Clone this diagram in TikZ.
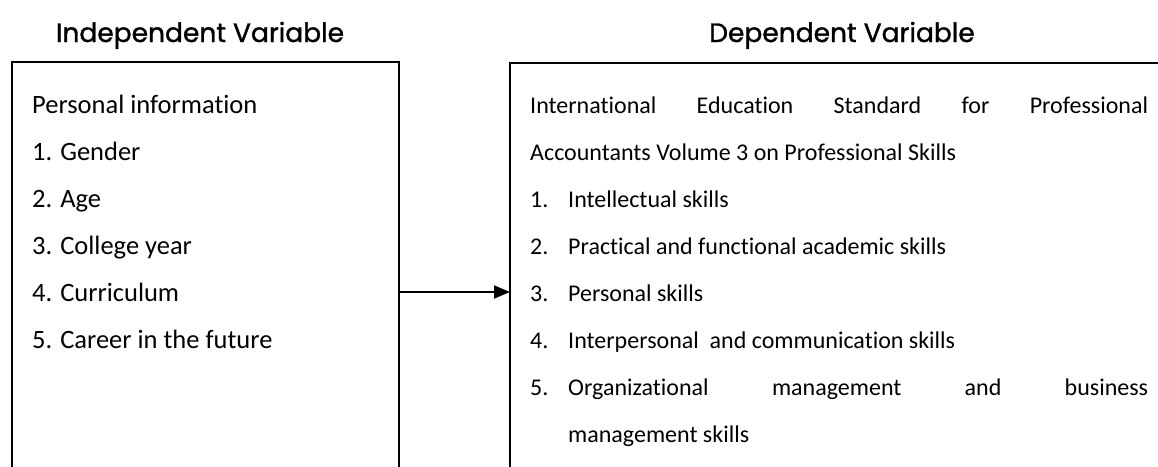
\documentclass[tikz,border=0pt]{standalone}
\usepackage{fontspec}
\setmainfont{Carlito}[Ligatures=NoCommon]
\newfontfamily\titlefont{Poppins}[FakeBold=1.2]
\usetikzlibrary{arrows.meta}
\tikzset{
  box/.style={draw, line width=1.8pt, anchor=north west, inner sep=0pt},
  title/.style={font=\titlefont\fontsize{26.5}{30}\selectfont, anchor=base},
  txt/.style={font=\fontsize{24}{28}\selectfont, anchor=base west, inner sep=0pt},
  ltxt/.style={font=\fontsize{26.5}{30}\selectfont, anchor=base west, inner sep=0pt},
  arr/.style={line width=1.8pt, -{Triangle[length=16pt,width=13pt]}, shorten >=-1pt}
}
\begin{document}
\begin{tikzpicture}[x=1pt,y=-1pt]
\useasboundingbox (0,0) rectangle (1158,466);
\node[title] (tl) at (200,42) {Independent Variable};
\node[title] (tr) at (842,42) {Dependent Variable};
\node[box, minimum width=387pt, minimum height=500pt] (lb) at (11,61) {};
\node[box, minimum width=700pt, minimum height=500pt] (rb) at (509,62) {};
% left box text
\node[ltxt] (l0) at (32,113) {Personal information};
\node[ltxt] (l1) at (32,160) {1. Gender};
\node[ltxt] (l2) at (32,207) {2. Age};
\node[ltxt] (l3) at (32,254) {3. College year};
\node[ltxt] (l4) at (32,301) {4. Curriculum};
\node[ltxt] (l5) at (32,348) {5. Career in the future};
% right box text
\node[txt] (r0) at (530,113) {\makebox[618pt][s]{International Education Standard for Professional}};
\node[txt] (r1) at (530,160) {Accountants Volume 3 on Professional Skills};
\node[txt] (n1) at (530,207) {1.};
\node[txt] (r2) at (568,207) {Intellectual skills};
\node[txt] (n2) at (530,254) {2.};
\node[txt] (r3) at (568,254) {Practical and functional academic skills};
\node[txt] (n3) at (530,301) {3.};
\node[txt] (r4) at (568,301) {Personal skills};
\node[txt] (n4) at (530,348) {4.};
\node[txt] (r5) at (568,348) {Interpersonal\ \ and communication skills};
\node[txt] (n5) at (530,395) {5.};
\node[txt] (r6) at (568,395) {\makebox[580pt][s]{Organizational management and business}};
\node[txt] (r7) at (568,442) {management skills};
% arrow
\coordinate (ay) at (0,292);
\draw[arr] (lb.east |- ay) -- (rb.west |- ay);
\end{tikzpicture}
\end{document}
